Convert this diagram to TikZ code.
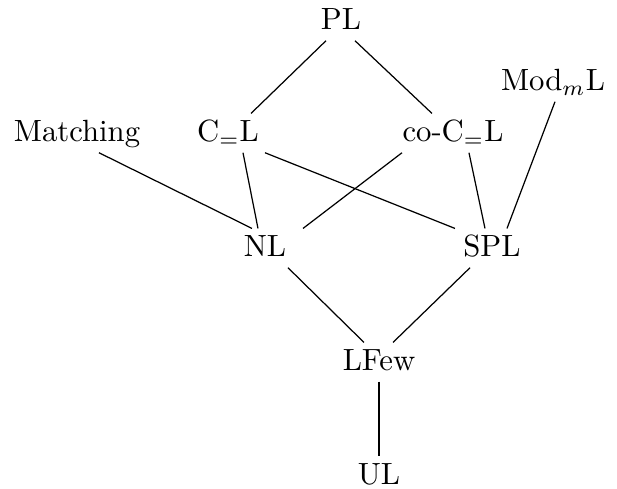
\documentclass[tikz,border=0pt]{standalone}
\usetikzlibrary{calc}
\begin{document}
\begin{tikzpicture}[x=0.3257pt,y=-0.3257pt,
  cls/.style={anchor=base,text height=6.8pt,text depth=1pt,inner ysep=2.3pt,inner xsep=3pt},
  edge/.style={line width=0.4pt},
  strong/.style={line width=0.9pt}]
\useasboundingbox (0,0) rectangle (617,489);
\node[cls] (PL) at (341,30) {PL};
\node[cls] (Mod) at (553,91) {Mod$_m$L};
\node[cls] (Match) at (77,142) {Matching};
\node[cls] (CL) at (228,142) {C$_=$L};
\node[cls] (coCL) at (453,142) {co-C$_=$L};
\node[cls] (NL) at (265,257) {NL};
\node[cls] (SPL) at (492,257) {SPL};
\node[cls] (LFew) at (379,371) {LFew};
\node[cls] (UL) at (379,485) {UL};
\draw[edge] ($(PL.south)+(-15,0)$) -- ($(CL.north)+(23,0)$);
\draw[edge] ($(PL.south)+(14,0)$) -- ($(coCL.north)+(-21,0)$);
\draw[edge] ($(Match.south)+(22,0)$) -- ($(NL.north)+(-13,0)$);
\draw[edge] ($(CL.south)+(15,0)$) -- ($(NL.north)+(-7,0)$);
\draw[edge] ($(CL.south)+(37,0)$) -- ($(SPL.north)+(-37,0)$);
\draw[edge] ($(coCL.south)+(-51,0)$) -- ($(NL.north)+(38,0)$);
\draw[edge] ($(coCL.south)+(16,0)$) -- ($(SPL.north)+(-7,0)$);
\draw[edge] ($(Mod.south)+(2,0)$) -- ($(SPL.north)+(15,0)$);
\draw[edge] ($(NL.south)+(23,0)$) -- ($(LFew.north)+(-15,0)$);
\draw[edge] ($(SPL.south)+(-22,0)$) -- ($(LFew.north)+(14,0)$);
\draw[strong] (LFew.south) -- (UL.north);
\end{tikzpicture}
\end{document}
